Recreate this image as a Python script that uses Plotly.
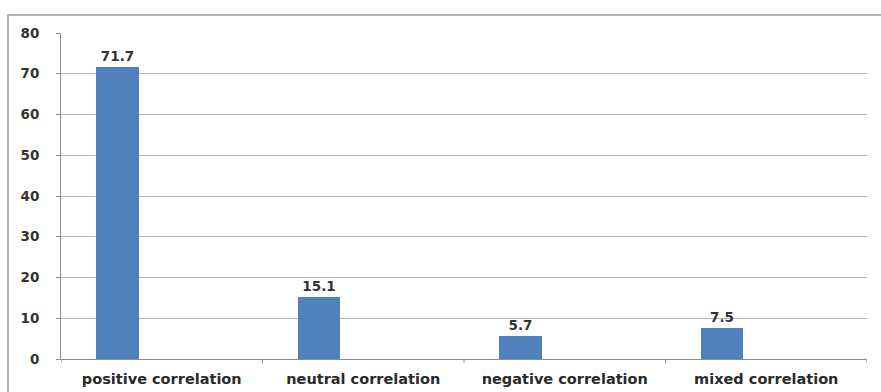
import plotly.graph_objects as go

# Share of responses by correlation type
categories = ["positive correlation", "neutral correlation",
              "negative correlation", "mixed correlation"]
values = [71.7, 15.1, 5.7, 7.5]
y_ticks = [0, 10, 20, 30, 40, 50, 60, 70, 80]

W, H = 881, 392
L, R, T, B = 61, 14, 33, 33

fig = go.Figure()
fig.add_trace(go.Bar(
    x=list(range(len(categories))),
    y=values,
    width=0.213,
    offset=-0.326,
    marker=dict(color="#4F81BD", line=dict(width=0)),
    text=[f"{v:.1f}" for v in values],
    textposition="outside",
    textfont=dict(family="DejaVu Sans", size=13.5, color="#333333", weight="bold"),
    cliponaxis=False,
    hoverinfo="skip",
))

# outer chart frame
pw, ph = W - L - R, H - T - B
fig.add_shape(type="rect", xref="paper", yref="paper",
              x0=(8 - L) / pw, x1=(W + 5 - L) / pw,
              y0=(H - B - (H + 5)) / ph, y1=(H - B - 15) / ph,
              line=dict(color="#9A9A9A", width=1.5), fillcolor="rgba(0,0,0,0)",
              layer="below")

fig.update_layout(
    width=W, height=H,
    margin=dict(l=L, r=R, t=T, b=B, autoexpand=False),
    paper_bgcolor="white", plot_bgcolor="white",
    showlegend=False,
    bargap=0,
    xaxis=dict(
        range=[-0.5, len(categories) - 0.5],
        tickmode="array",
        tickvals=list(range(len(categories))),
        ticktext=categories,
        ticks="", showgrid=False, zeroline=False,
        showline=True, linecolor="#8C8C8C", linewidth=1,
        tickfont=dict(family="DejaVu Sans", size=14.5, color="#2A2A2A", weight=600),
        ticklabelstandoff=7,
        automargin=False,
        fixedrange=True,
    ),
    yaxis=dict(
        range=[0, 80],
        tickmode="array", tickvals=y_ticks,
        ticks="outside", ticklen=4, tickcolor="#8C8C8C",
        showgrid=True, gridcolor="#B5B5B5", gridwidth=1,
        zeroline=False,
        showline=True, linecolor="#8C8C8C", linewidth=1,
        tickfont=dict(family="DejaVu Sans", size=13.5, color="#333333", weight="bold"),
        ticklabelstandoff=14,
        automargin=False,
        fixedrange=True,
    ),
)

# category boundary ticks along the x axis
for b in [i - 0.5 for i in range(len(categories) + 1)]:
    fig.add_shape(type="line", xref="x", yref="paper",
                  x0=b, x1=b, y0=0, y1=-4 / ph,
                  line=dict(color="#8C8C8C", width=1))

fig.write_html("out.html")
